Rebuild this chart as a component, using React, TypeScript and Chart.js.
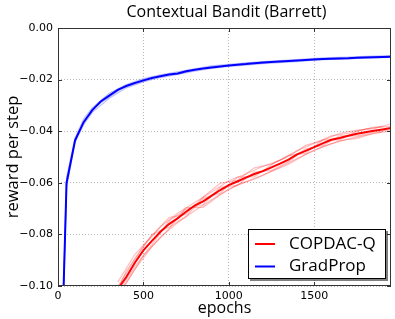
import React, { useEffect, useRef } from 'react';
import { Chart, registerables } from 'chart.js';

Chart.register(...registerables);

const titleText = 'Contextual Bandit (Barrett)';
const xLabel = 'epochs';
const yLabel = 'reward per step';
const xTicks = [0, 500, 1000, 1500];
const yTicks = [-0.1, -0.08, -0.06, -0.04, -0.02, 0];

// COPDAC-Q mean curve
const redEpochs = [350, 400, 450, 500, 550, 600, 650, 700, 750, 800, 850, 900, 950, 1000, 1050, 1100, 1150, 1200, 1250, 1300, 1350, 1400, 1450, 1500, 1550, 1600, 1650, 1700, 1750, 1800, 1850, 1900, 1950];
const redMean = [-0.1012, -0.0965, -0.091, -0.0862, -0.0825, -0.079, -0.076, -0.0738, -0.0712, -0.0688, -0.0672, -0.065, -0.0628, -0.0609, -0.0595, -0.058, -0.0566, -0.0555, -0.054, -0.0526, -0.051, -0.049, -0.0476, -0.0462, -0.0447, -0.0433, -0.0426, -0.0418, -0.041, -0.0404, -0.0398, -0.0393, -0.0388];

// COPDAC-Q individual runs
const redRunEpochsA = [350, 450, 550, 650, 750, 850, 950, 1050, 1150, 1250, 1350, 1450, 1550, 1650, 1750, 1850, 1950];
const redRunA = [-0.0985, -0.0878, -0.0805, -0.0735, -0.0722, -0.0655, -0.0602, -0.059, -0.0542, -0.0528, -0.0498, -0.0455, -0.0436, -0.0408, -0.0396, -0.039, -0.0372];
const redRunB = [-0.1035, -0.0935, -0.0848, -0.0778, -0.0696, -0.0695, -0.0646, -0.0608, -0.0586, -0.0556, -0.0528, -0.049, -0.046, -0.0437, -0.0428, -0.0408, -0.04];
const redRunC = [-0.1002, -0.0898, -0.08, -0.0772, -0.073, -0.066, -0.064, -0.0578, -0.0576, -0.053, -0.0494, -0.0486, -0.0434, -0.0434, -0.04, -0.0384, -0.0382];
const redRunD = [-0.1025, -0.0925, -0.084, -0.0748, -0.0703, -0.0684, -0.0618, -0.061, -0.0558, -0.0552, -0.0518, -0.0468, -0.0456, -0.0418, -0.0418, -0.0404, -0.0394];
const redRunEpochsB = [360, 400, 500, 600, 700, 800, 900, 1000, 1100, 1200, 1300, 1400, 1500, 1600, 1700, 1800, 1900];
const redRunE = [-0.1, -0.0942, -0.0845, -0.077, -0.0718, -0.0676, -0.0636, -0.0592, -0.0566, -0.0536, -0.0512, -0.0476, -0.0447, -0.0418, -0.0408, -0.0392, -0.0382];
const redRunF = [-0.1018, -0.099, -0.0882, -0.081, -0.0755, -0.0708, -0.0666, -0.0624, -0.0596, -0.057, -0.054, -0.0506, -0.0474, -0.0449, -0.043, -0.0415, -0.0403];

// GradProp mean curve
const blueEpochs = [0, 50, 100, 150, 200, 250, 300, 350, 400, 450, 500, 550, 600, 650, 700, 750, 800, 850, 900, 950, 1000, 1050, 1100, 1150, 1200, 1250, 1300, 1350, 1400, 1450, 1500, 1550, 1600, 1650, 1700, 1750, 1800, 1850, 1900, 1950];
const blueMean = [-0.178, -0.06, -0.0435, -0.0365, -0.0319, -0.0285, -0.0262, -0.024, -0.0225, -0.0213, -0.0203, -0.0194, -0.0187, -0.018, -0.0176, -0.0168, -0.0162, -0.0157, -0.0153, -0.0149, -0.0145, -0.0142, -0.014, -0.0137, -0.0134, -0.0132, -0.013, -0.0128, -0.0126, -0.0124, -0.0122, -0.012, -0.0119, -0.0118, -0.0117, -0.0115, -0.0114, -0.0113, -0.0112, -0.0111];

// GradProp individual runs
const blueRunEpochs = [0, 50, 100, 150, 200, 300, 400, 500, 600, 700, 800, 900, 1000, 1100, 1200, 1300, 1400, 1500, 1600, 1700, 1800, 1900, 1950];
const blueRunA = [-0.175, -0.058, -0.0426, -0.0353, -0.031, -0.0253, -0.0219, -0.0196, -0.0182, -0.017, -0.0158, -0.0147, -0.0141, -0.0135, -0.013, -0.0126, -0.0122, -0.0118, -0.0115, -0.0113, -0.011, -0.0108, -0.0107];
const blueRunB = [-0.181, -0.062, -0.0444, -0.0375, -0.0328, -0.0272, -0.0232, -0.0209, -0.0192, -0.018, -0.0167, -0.0157, -0.0149, -0.0144, -0.0138, -0.0134, -0.013, -0.0125, -0.0122, -0.012, -0.0117, -0.0115, -0.0114];
const blueRunC = [-0.179, -0.061, -0.0432, -0.037, -0.0314, -0.0267, -0.0223, -0.0206, -0.0184, -0.0179, -0.0163, -0.015, -0.0147, -0.0137, -0.0136, -0.0128, -0.0127, -0.0121, -0.0118, -0.0116, -0.0113, -0.0111, -0.011];

const RED = '#ff0000';
const BLUE = '#0000ff';
const RED_FAINT = 'rgba(255,0,0,0.26)';
const BLUE_FAINT = 'rgba(0,0,255,0.25)';

const pts = (xs: number[], ys: number[]) => xs.map((x, i) => ({ x, y: ys[i] }));

const faint = (xs: number[], ys: number[], color: string) => ({
  label: '',
  data: pts(xs, ys),
  borderColor: color,
  borderWidth: 1.2,
  pointRadius: 0,
  tension: 0,
  order: 2,
  clip: 0,
});

const overlayPlugin = {
  id: 'overlay',
  afterDraw(chart: any) {
    const { ctx, chartArea: a, scales } = chart;
    ctx.save();
    // frame
    ctx.strokeStyle = '#333';
    ctx.lineWidth = 1;
    ctx.strokeRect(Math.round(a.left) + 0.5, Math.round(a.top) + 0.5, Math.round(a.right - a.left) - 1, Math.round(a.bottom - a.top) - 1);
    // inward ticks
    ctx.beginPath();
    xTicks.forEach((v) => {
      const px = Math.round(scales.x.getPixelForValue(v)) + 0.5;
      ctx.moveTo(px, a.bottom);
      ctx.lineTo(px, a.bottom - 4);
      ctx.moveTo(px, a.top);
      ctx.lineTo(px, a.top + 4);
    });
    yTicks.forEach((v) => {
      const py = Math.round(scales.y.getPixelForValue(v)) + 0.5;
      ctx.moveTo(a.left, py);
      ctx.lineTo(a.left + 4, py);
      ctx.moveTo(a.right, py);
      ctx.lineTo(a.right - 4, py);
    });
    ctx.stroke();
    // title
    ctx.fillStyle = '#000';
    ctx.font = '16px "Open Sans"';
    ctx.textAlign = 'center';
    ctx.textBaseline = 'alphabetic';
    ctx.fillText(titleText, (a.left + a.right) / 2 + 2, 17);
    // legend
    const bx = a.right - 143;
    const by = a.bottom - 57;
    const bw = 138;
    const bh = 50;
    ctx.fillStyle = 'rgba(0,0,0,0.5)';
    ctx.fillRect(bx + 2, by + 2, bw, bh);
    ctx.fillStyle = '#fff';
    ctx.fillRect(bx, by, bw, bh);
    ctx.strokeStyle = '#000';
    ctx.lineWidth = 1;
    ctx.strokeRect(bx + 0.5, by + 0.5, bw - 1, bh - 1);
    const items = chart.data.datasets.filter((d: any) => d.label);
    items.forEach((d: any, i: number) => {
      const y = by + 15 + i * 22.5;
      ctx.strokeStyle = d.borderColor;
      ctx.lineWidth = 2;
      ctx.beginPath();
      ctx.moveTo(bx + 7, y);
      ctx.lineTo(bx + 27, y);
      ctx.stroke();
      ctx.fillStyle = '#000';
      ctx.font = '17px "Open Sans"';
      ctx.textAlign = 'left';
      ctx.textBaseline = 'middle';
      ctx.fillText(d.label, bx + 41, y);
    });
    ctx.restore();
  },
};

export default function App() {
  const ref = useRef<HTMLCanvasElement | null>(null);
  useEffect(() => {
    if (!ref.current) return;
    const chart = new Chart(ref.current, {
      type: 'line',
      data: {
        datasets: [
          { label: 'COPDAC-Q', data: pts(redEpochs, redMean), borderColor: RED, borderWidth: 2, pointRadius: 0, tension: 0, order: 0, clip: 0 } as any,
          { label: 'GradProp', data: pts(blueEpochs, blueMean), borderColor: BLUE, borderWidth: 2, pointRadius: 0, tension: 0, order: 0, clip: 0 } as any,
          faint(redRunEpochsA, redRunA, RED_FAINT),
          faint(redRunEpochsA, redRunB, RED_FAINT),
          faint(redRunEpochsA, redRunC, RED_FAINT),
          faint(redRunEpochsA, redRunD, RED_FAINT),
          faint(redRunEpochsB, redRunE, RED_FAINT),
          faint(redRunEpochsB, redRunF, RED_FAINT),
          faint(blueRunEpochs, blueRunA, BLUE_FAINT),
          faint(blueRunEpochs, blueRunB, BLUE_FAINT),
          faint(blueRunEpochs, blueRunC, BLUE_FAINT),
        ],
      },
      options: {
        responsive: false,
        animation: false,
        devicePixelRatio: 1,
        layout: { padding: { left: 0, right: 4, top: 28, bottom: 0 } },
        plugins: { legend: { display: false }, tooltip: { enabled: false }, title: { display: false } },
        scales: {
          x: {
            type: 'linear',
            min: 0,
            max: 1950,
            afterBuildTicks: (s: any) => { s.ticks = xTicks.map((v) => ({ value: v })); },
            afterFit: (s: any) => { s.height = 33; },
            ticks: { color: '#000', font: { family: 'DejaVu Sans', size: 11 }, padding: 4, maxRotation: 0, callback: (v: any) => String(v) },
            grid: { color: 'rgba(0,0,0,0.28)', drawTicks: false, lineWidth: 1 },
            border: { display: false, dash: [1, 2] },
            title: { display: true, text: xLabel, color: '#000', font: { family: 'Open Sans', size: 16 }, padding: { top: 0, bottom: 1 } },
          },
          y: {
            type: 'linear',
            min: -0.1,
            max: 0,
            afterBuildTicks: (s: any) => { s.ticks = yTicks.map((v) => ({ value: v })); },
            afterFit: (s: any) => { s.width = 58; },
            ticks: {
              color: '#000',
              font: { family: 'DejaVu Sans', size: 11 },
              padding: 5,
              callback: (v: any) => (v < -1e-9 ? '\u2212' : '') + Math.abs(Number(v)).toFixed(2),
            },
            grid: { color: 'rgba(0,0,0,0.28)', drawTicks: false, lineWidth: 1 },
            border: { display: false, dash: [1, 2] },
            title: { display: true, text: yLabel, color: '#000', font: { family: 'Open Sans', size: 16.5 }, padding: { top: 3, bottom: 0 } },
          },
        },
      } as any,
      plugins: [overlayPlugin],
    });
    return () => chart.destroy();
  }, []);
  return (
    <div style={{ position: 'absolute', left: 0, top: 0, width: 395, height: 319, background: '#fff' }}>
      <canvas ref={ref} width={395} height={319} />
    </div>
  );
}
